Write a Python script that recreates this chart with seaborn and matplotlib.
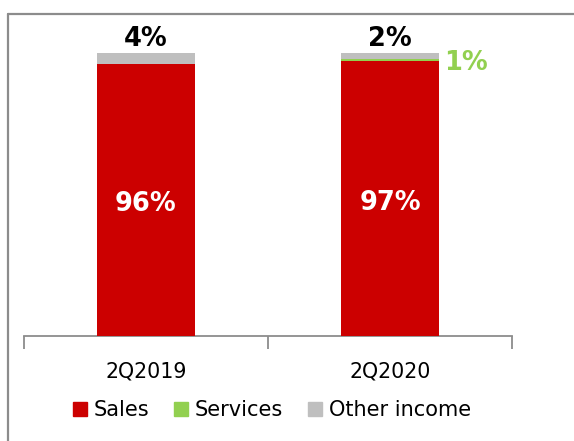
import matplotlib
matplotlib.use("Agg")
import matplotlib.pyplot as plt
import seaborn as sns
import pandas as pd
from matplotlib.patches import Rectangle
from matplotlib.lines import Line2D

# Revenue mix by quarter (% of total)
periods = ["2Q2019", "2Q2020"]
sales = [96, 97]
services = [0, 1]
other_income = [4, 2]
series_names = ["Sales", "Services", "Other income"]
colors = {"Sales": "#CC0000", "Services": "#92D050", "Other income": "#BFBFBF"}

df = pd.DataFrame({"period": periods, "Sales": sales,
                   "Services": services, "Other income": other_income})

sns.set_theme(style="white")
plt.rcParams["font.family"] = ["DejaVu Sans"]
plt.rcParams["text.color"] = "black"

fig = plt.figure(figsize=(5.74, 4.41), dpi=100)
ax = fig.add_axes([24 / 574, 1 - 336 / 441, 488 / 574, (336 - 53) / 441])

# Stack the series bottom-up with seaborn barplots
bottom = pd.Series([0.0] * len(df))
for name in series_names:
    top = bottom + df[name]
    sns.barplot(x=df["period"], y=top, color=colors[name], width=0.4,
                ax=ax, zorder=3 - series_names.index(name), saturation=1,
                linewidth=0)
    bottom = top

ax.set_xlim(-0.5, 1.5)
ax.set_ylim(0, 100)
ax.set_xlabel("")
ax.set_ylabel("")
ax.set_yticks([])
for side in ["left", "right", "top"]:
    ax.spines[side].set_visible(False)
ax.spines["bottom"].set_color("#8C8C8C")
ax.spines["bottom"].set_linewidth(1.3)

# Category separators as tick marks between groups
ax.set_xticks([-0.5, 0.5, 1.5], minor=True)
ax.tick_params(axis="x", which="minor", length=9, width=1.3, color="#8C8C8C",
               direction="out", bottom=True)
ax.tick_params(axis="x", which="major", length=0, labelsize=14.8, pad=18,
               labelcolor="black")

# Value labels
for i in range(len(periods)):
    ax.text(i, sales[i] / 2 - 1.4, f"{sales[i]}%", ha="center", va="center",
            color="white", fontsize=18.5, fontweight="bold")
    total = sales[i] + services[i] + other_income[i]
    ax.text(i, total + 4.9, f"{other_income[i]}%", ha="center", va="center",
            color="black", fontsize=18.5, fontweight="bold", clip_on=False)
    if services[i] > 0:
        ax.text(i + 0.22, sales[i] - 0.4, f"{services[i]}%", ha="left",
                va="center", color=colors["Services"], fontsize=18.5,
                fontweight="bold", clip_on=False)

# Legend
handles = [Rectangle((0, 0), 1, 1, color=colors[n]) for n in series_names]
leg = fig.legend(handles, series_names, loc="center",
                 bbox_to_anchor=(272 / 574, 1 - 410 / 441),
                 ncol=3, frameon=False, fontsize=15, handlelength=0.65,
                 handleheight=0.65, handletextpad=0.34, columnspacing=1.2,
                 borderpad=0)
for t in leg.get_texts():
    t.set_color("black")

# Chart-area frame
fig.add_artist(Line2D([8 / 574, 8 / 574], [0, 1 - 14 / 441], color="#8C8C8C",
                      linewidth=1.6, transform=fig.transFigure))
fig.add_artist(Line2D([8 / 574, 1], [1 - 14 / 441, 1 - 14 / 441], color="#8C8C8C",
                      linewidth=1.6, transform=fig.transFigure))

fig.savefig("out.png", dpi=100)
